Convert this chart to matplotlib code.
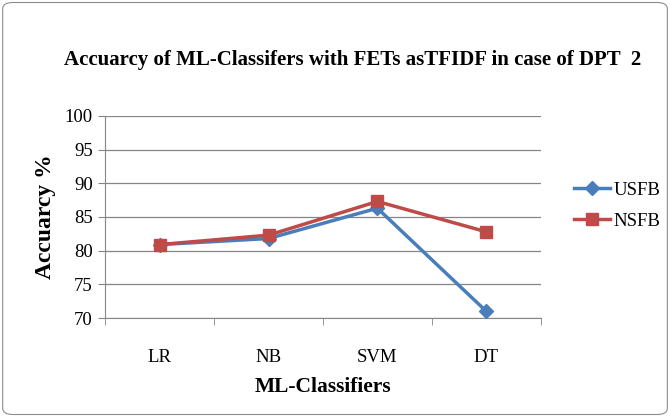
import matplotlib.pyplot as plt
from matplotlib.patches import FancyBboxPatch
import numpy as np

classifiers = ["LR", "NB", "SVM", "DT"]
usfb = [80.9, 81.8, 86.3, 71.0]
nsfb = [80.9, 82.3, 87.3, 82.8]
yticks = [70, 75, 80, 85, 90, 95, 100]

plt.rcParams["font.family"] = ["Liberation Serif", "DejaVu Serif"]

fig = plt.figure(figsize=(6.7, 4.17), dpi=100)
ax = fig.add_axes([0.157, 0.2374, 0.65, 0.4846])

# rounded border around the chart
fig.patches.append(FancyBboxPatch((0.004, 0.006), 0.992, 0.988,
                                  boxstyle="round,pad=0,rounding_size=0.015",
                                  transform=fig.transFigure, fill=False,
                                  edgecolor="#8c8c8c", linewidth=0.8))

x = np.arange(len(classifiers))
ax.plot(x, usfb, color="#4a7ebb", linewidth=2.5, marker="D", markersize=7,
        label="USFB", zorder=3)
ax.plot(x, nsfb, color="#be4b48", linewidth=2.5, marker="s", markersize=9,
        label="NSFB", zorder=4)

ax.set_xlim(-0.5, len(classifiers) - 0.5)
ax.set_ylim(70, 100)
ax.set_yticks(yticks)
ax.set_xticks(x)
ax.set_xticklabels(classifiers)
ax.set_xticks(np.arange(-0.5, len(classifiers)), minor=True)
ax.tick_params(axis="x", which="major", length=0, pad=22, labelsize=13.5)
ax.tick_params(axis="x", which="minor", length=5, color="#868686")
ax.tick_params(axis="y", length=5, color="#868686", labelsize=13.5, pad=4)
ax.yaxis.grid(True, color="#868686", linewidth=0.9)
ax.set_axisbelow(True)
for side in ["top", "right"]:
    ax.spines[side].set_visible(False)
for side in ["left", "bottom"]:
    ax.spines[side].set_color("#868686")

ax.set_xlabel("ML-Classifiers", fontsize=15.5, fontweight="bold", labelpad=8)
ax.set_ylabel("Accuarcy %", fontsize=17, fontweight="bold", labelpad=6)
fig.text(0.526, 0.856, "Accuarcy of ML-Classifers with FETs asTFIDF in case of DPT  2",
         ha="center", va="center", fontsize=15, fontweight="bold")

ax.legend(loc="center left", bbox_to_anchor=(1.055, 0.555), frameon=False,
          fontsize=13.5, handlelength=1.9, handletextpad=0.2,
          labelspacing=0.75, borderpad=0)

fig.savefig("out.png", dpi=100)
